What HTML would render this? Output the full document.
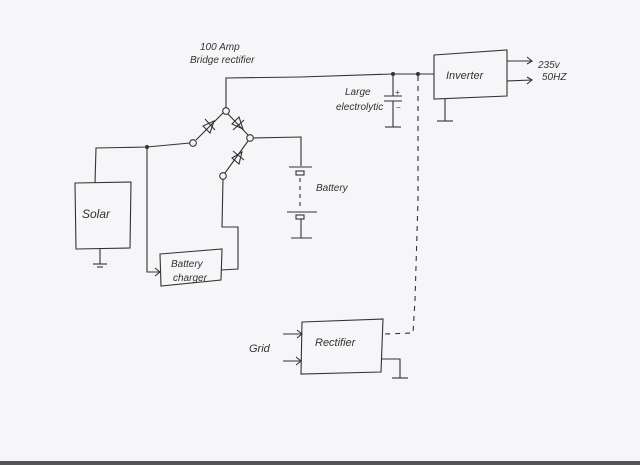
<!DOCTYPE html>
<html><head><style>
html,body{margin:0;padding:0;background:#f6f6f8;}
svg{display:block;}
text{font-family:"Liberation Sans",sans-serif;font-size:10px;fill:#333;font-style:italic;}
</style></head><body>
<svg width="640" height="465" viewBox="0 0 640 465" xmlns="http://www.w3.org/2000/svg">
<rect width="640" height="465" fill="#f6f6f8"/>
<rect x="0" y="461" width="640" height="4" fill="#555"/>
<g stroke="#333" stroke-width="1.1" fill="none">
<!-- top bus -->
<polyline points="226,108 226,78 300,77 393,74 434,74"/>
<!-- bridge nodes -->
<circle cx="226" cy="111" r="3.3" fill="#f6f6f8"/>
<circle cx="193" cy="143" r="3.3" fill="#f6f6f8"/>
<circle cx="250" cy="138" r="3.3" fill="#f6f6f8"/>
<circle cx="223" cy="176" r="3.3" fill="#f6f6f8"/>
<!-- diodes -->
<line x1="196" y1="140" x2="223" y2="113"/>
<polygon points="203,126 210,133 214,121"/>
<line x1="205" y1="119" x2="215" y2="130"/>
<line x1="228" y1="114" x2="248" y2="135"/>
<polygon points="232,124 239,117 243,129"/>
<line x1="233" y1="130" x2="244" y2="120"/>
<line x1="248" y1="141" x2="225" y2="173"/>
<polygon points="232,158 239,164 242,152"/>
<line x1="233" y1="151" x2="244" y2="160"/>
<!-- left wire -->
<polyline points="190,143 147,147 96,148 95,183"/>
<polyline points="147,147 147,272 160,272"/>
<polyline points="155,268 160,272 155,276"/>
<!-- solar -->
<polygon points="75,183 131,182 130,248 76,249"/>
<line x1="100" y1="249" x2="100" y2="264"/>
<line x1="93" y1="264" x2="107" y2="264"/>
<line x1="97" y1="267" x2="103" y2="267"/>
<!-- charger -->
<polygon points="160,254 222,249 221,280 161,286"/>
<polyline points="223,179 222,227 238,227 238,269 221,270"/>
<!-- battery -->
<polyline points="253,138 301,137 301,166"/>
<line x1="289" y1="167" x2="312" y2="167"/>
<rect x="296" y="171" width="8" height="4"/>
<line x1="300" y1="178" x2="300" y2="210" stroke-dasharray="4,4"/>
<line x1="287" y1="212" x2="317" y2="212"/>
<rect x="296" y="215" width="8" height="4"/>
<line x1="301" y1="219" x2="301" y2="238"/>
<line x1="291" y1="238" x2="312" y2="238"/>
<!-- capacitor -->
<line x1="393" y1="74" x2="393" y2="96"/>
<line x1="384" y1="96" x2="402" y2="96"/>
<line x1="384" y1="101" x2="402" y2="101"/>
<line x1="393" y1="101" x2="393" y2="127"/>
<line x1="385" y1="127" x2="401" y2="127"/>
<!-- dashed -->
<polyline points="418,76 418,200 415,300 413,333 384,334" stroke-dasharray="5,5"/>
<!-- inverter -->
<polygon points="434,55 507,50 507,96 434,99"/>
<line x1="445" y1="99" x2="445" y2="121"/>
<line x1="437" y1="121" x2="453" y2="121"/>
<line x1="507" y1="61" x2="532" y2="61"/><polyline points="527,57 532,61 527,64"/>
<line x1="507" y1="81" x2="532" y2="80"/><polyline points="527,77 532,80 527,84"/>
<!-- rectifier -->
<polygon points="302,322 383,319 381,372 301,374"/>
<line x1="283" y1="334" x2="302" y2="334"/><polyline points="297,330 302,334 297,338"/>
<line x1="283" y1="361" x2="301" y2="361"/><polyline points="296,357 301,361 296,365"/>
<polyline points="382,359 400,359 400,378"/>
<line x1="392" y1="378" x2="408" y2="378"/>
</g>
<g fill="#333">
<circle cx="147" cy="147" r="2"/>
<circle cx="393" cy="74" r="2"/>
<circle cx="418" cy="74" r="2"/>
</g>
<text x="200" y="50">100 Amp</text>
<text x="190" y="63">Bridge rectifier</text>
<text x="345" y="95">Large</text>
<text x="336" y="110">electrolytic</text>
<text x="395" y="95" style="font-size:8px">+</text>
<text x="396" y="110" style="font-size:8px">−</text>
<text x="446" y="79" style="font-size:11px">Inverter</text>
<text x="538" y="68">235v</text>
<text x="542" y="80">50HZ</text>
<text x="82" y="218" style="font-size:12px">Solar</text>
<text x="316" y="191">Battery</text>
<text x="171" y="267">Battery</text>
<text x="173" y="281">charger</text>
<text x="315" y="346" style="font-size:11px">Rectifier</text>
<text x="249" y="352" style="font-size:11px">Grid</text>
</svg>
</body></html>
